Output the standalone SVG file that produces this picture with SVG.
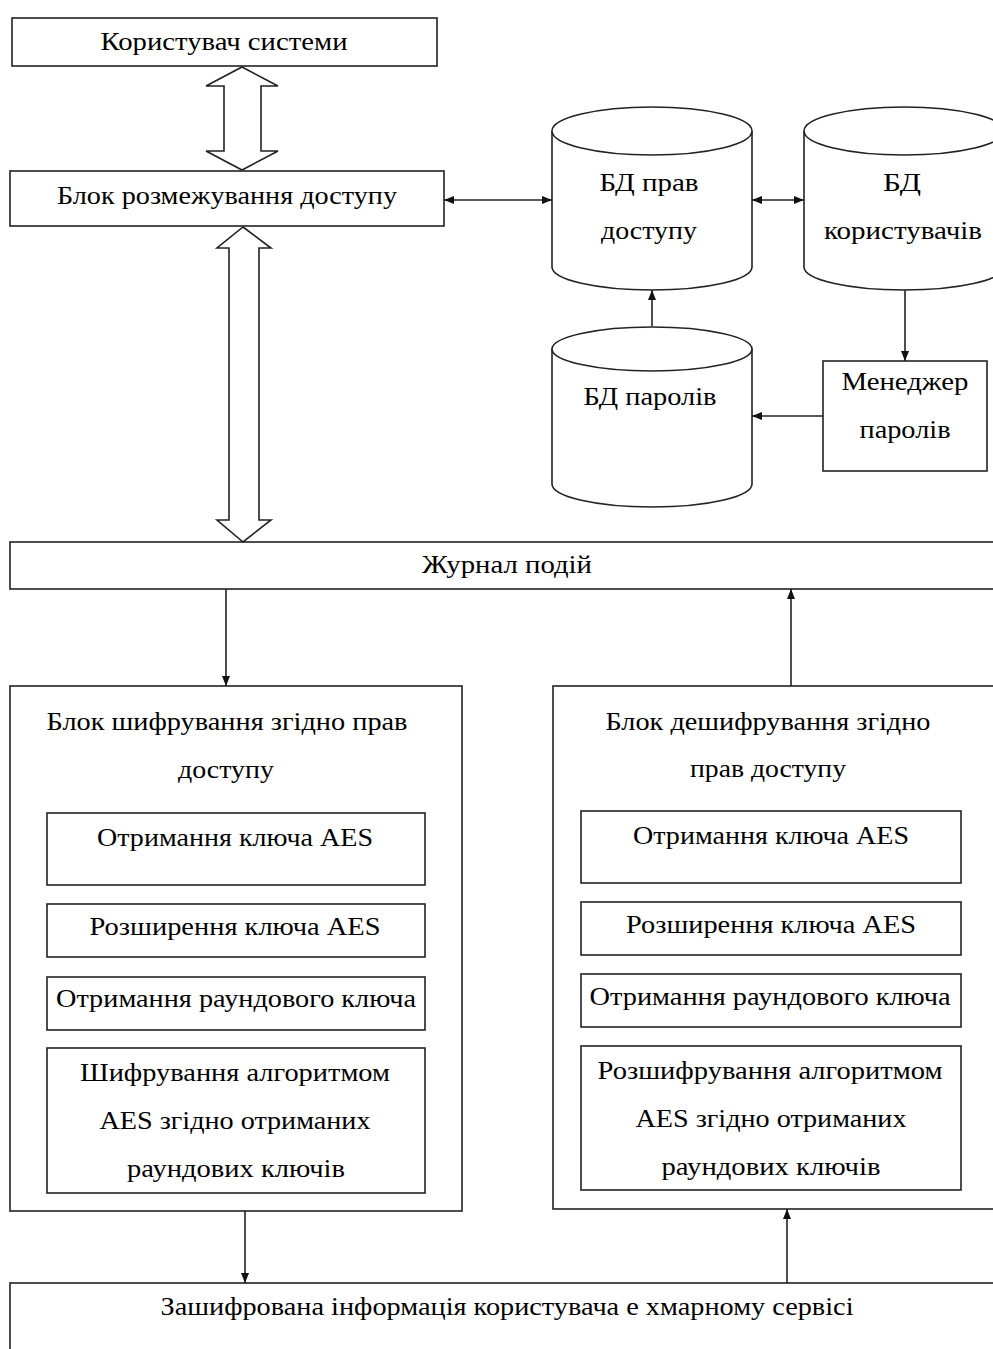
<svg xmlns="http://www.w3.org/2000/svg" width="993" height="1349" viewBox="0 0 993 1349">
<style>
.b{fill:#fff;stroke:#222;stroke-width:1.6}
.c{fill:none;stroke:#222;stroke-width:1.6}
.t{font-family:"Liberation Serif","Times New Roman",serif;font-size:26px;fill:#000;text-anchor:middle}
</style>
<defs>
<marker id="ah" viewBox="0 0 10 10" refX="10" refY="5" markerWidth="10" markerHeight="10" markerUnits="userSpaceOnUse" orient="auto-start-reverse">
<path d="M0,1 L10,5 L0,9 Z" fill="#111"/>
</marker>
</defs>
<rect width="993" height="1349" fill="#fff"/>

<g id="user">
<rect class="b" x="12" y="18" width="425" height="48"/>
<text class="t" x="224" y="50" textLength="247" lengthAdjust="spacingAndGlyphs">Користувач системи</text>
</g>

<g id="access">
<rect class="b" x="10" y="171" width="434" height="55"/>
<text class="t" x="227" y="204" textLength="340" lengthAdjust="spacingAndGlyphs">Блок розмежування доступу</text>
</g>

<g id="db-rights">
<path class="b" d="M552,131 L552,267 A100,23 0 0 0 752,267 L752,131"/>
<ellipse class="b" cx="652" cy="131" rx="100" ry="24"/>
<text class="t" x="649" y="191" textLength="99" lengthAdjust="spacingAndGlyphs">БД прав</text>
<text class="t" x="649" y="239" textLength="96" lengthAdjust="spacingAndGlyphs">доступу</text>
</g>

<g id="db-users">
<path class="b" d="M804,131 L804,267 A100,23 0 0 0 1004,267 L1004,131"/>
<ellipse class="b" cx="904" cy="131" rx="100" ry="24"/>
<text class="t" x="902" y="191" textLength="38" lengthAdjust="spacingAndGlyphs">БД</text>
<text class="t" x="903" y="239" textLength="158" lengthAdjust="spacingAndGlyphs">користувачів</text>
</g>

<g id="db-passwords">
<path class="b" d="M552,349 L552,484 A100,23 0 0 0 752,484 L752,349"/>
<ellipse class="b" cx="652" cy="349" rx="100" ry="22"/>
<text class="t" x="650" y="405" textLength="133" lengthAdjust="spacingAndGlyphs">БД паролів</text>
</g>

<g id="pass-manager">
<rect class="b" x="823" y="361" width="164" height="110"/>
<text class="t" x="905" y="390" textLength="127" lengthAdjust="spacingAndGlyphs">Менеджер</text>
<text class="t" x="905" y="438" textLength="91" lengthAdjust="spacingAndGlyphs">паролів</text>
</g>

<g id="journal">
<rect class="b" x="10" y="542" width="1000" height="47"/>
<text class="t" x="507" y="573" textLength="170" lengthAdjust="spacingAndGlyphs">Журнал подій</text>
</g>

<g id="encrypt">
<rect class="b" x="10" y="686" width="452" height="525"/>
<text class="t" x="227" y="730" textLength="361" lengthAdjust="spacingAndGlyphs">Блок шифрування згідно прав</text>
<text class="t" x="226" y="778" textLength="96" lengthAdjust="spacingAndGlyphs">доступу</text>
<rect class="b" x="47" y="813" width="378" height="72"/>
<text class="t" x="235" y="846" textLength="276" lengthAdjust="spacingAndGlyphs">Отримання ключа AES</text>
<rect class="b" x="47" y="904" width="378" height="53"/>
<text class="t" x="235" y="935" textLength="291" lengthAdjust="spacingAndGlyphs">Розширення ключа AES</text>
<rect class="b" x="47" y="977" width="378" height="53"/>
<text class="t" x="236" y="1007" textLength="360" lengthAdjust="spacingAndGlyphs">Отримання раундового ключа</text>
<rect class="b" x="47" y="1048" width="378" height="145"/>
<text class="t" x="235" y="1081" textLength="310" lengthAdjust="spacingAndGlyphs">Шифрування алгоритмом</text>
<text class="t" x="235" y="1129" textLength="271" lengthAdjust="spacingAndGlyphs">AES згідно отриманих</text>
<text class="t" x="236" y="1177" textLength="218" lengthAdjust="spacingAndGlyphs">раундових ключів</text>
</g>

<g id="decrypt">
<rect class="b" x="553" y="686" width="460" height="523"/>
<text class="t" x="768" y="730" textLength="325" lengthAdjust="spacingAndGlyphs">Блок дешифрування згідно</text>
<text class="t" x="768" y="777" textLength="156" lengthAdjust="spacingAndGlyphs">прав доступу</text>
<rect class="b" x="581" y="811" width="380" height="72"/>
<text class="t" x="771" y="844" textLength="276" lengthAdjust="spacingAndGlyphs">Отримання ключа AES</text>
<rect class="b" x="581" y="902" width="380" height="53"/>
<text class="t" x="771" y="933" textLength="290" lengthAdjust="spacingAndGlyphs">Розширення ключа AES</text>
<rect class="b" x="581" y="974" width="380" height="53"/>
<text class="t" x="770" y="1005" textLength="361" lengthAdjust="spacingAndGlyphs">Отримання раундового ключа</text>
<rect class="b" x="581" y="1046" width="380" height="144"/>
<text class="t" x="770" y="1079" textLength="345" lengthAdjust="spacingAndGlyphs">Розшифрування алгоритмом</text>
<text class="t" x="771" y="1127" textLength="271" lengthAdjust="spacingAndGlyphs">AES згідно отриманих</text>
<text class="t" x="771" y="1175" textLength="219" lengthAdjust="spacingAndGlyphs">раундових ключів</text>
</g>

<g id="cloud">
<rect class="b" x="10" y="1283" width="1000" height="100"/>
<text class="t" x="507" y="1315" textLength="693" lengthAdjust="spacingAndGlyphs">Зашифрована інформація користувача е хмарному сервісі</text>
</g>

<g id="connectors">
<polygon class="b" points="242,67 278,86 261,86 261,151 278,151 242,170 206,151 224,151 224,86 206,86"/>
<polygon class="b" points="243,227 271,248 259,248 259,520 271,520 243,542 217,520 229,520 229,248 217,248"/>
<line class="c" x1="444" y1="200" x2="552" y2="200" marker-start="url(#ah)" marker-end="url(#ah)"/>
<line class="c" x1="752" y1="200" x2="804" y2="200" marker-start="url(#ah)" marker-end="url(#ah)"/>
<line class="c" x1="652" y1="326" x2="652" y2="290" marker-end="url(#ah)"/>
<line class="c" x1="905" y1="290" x2="905" y2="361" marker-end="url(#ah)"/>
<line class="c" x1="823" y1="416" x2="752" y2="416" marker-end="url(#ah)"/>
<line class="c" x1="226" y1="589" x2="226" y2="686" marker-end="url(#ah)"/>
<line class="c" x1="791" y1="686" x2="791" y2="589" marker-end="url(#ah)"/>
<line class="c" x1="245" y1="1211" x2="245" y2="1283" marker-end="url(#ah)"/>
<line class="c" x1="787" y1="1283" x2="787" y2="1209" marker-end="url(#ah)"/>
</g>
</svg>
